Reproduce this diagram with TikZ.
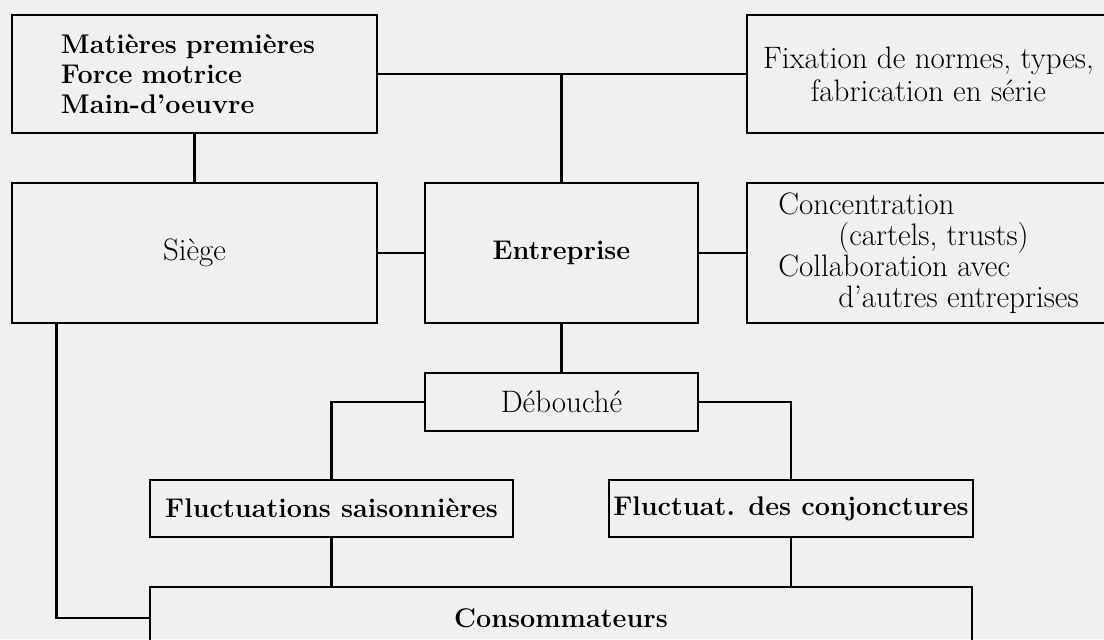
\documentclass[tikz,border=0pt]{standalone}
\usepackage{tikz}
\usetikzlibrary{positioning}
\tikzset{
box/.style={draw, rectangle, line width=1.4pt, inner sep=0pt}, % every frame of the chart
link/.style={line width=1.4pt}, % plain connectors, no tips
boldtxt/.style={font=\fontsize{13.5}{15}\selectfont\bfseries}, % heavy labels
plaintxt/.style={font=\fontsize{15.5}{15.5}\selectfont}, % light labels
}

\begin{document}
\begin{tikzpicture}[x=0.5pt, y=-0.5pt]
        \useasboundingbox (0,0) rectangle (1104,639);
        \fill[black!6] (0,0) rectangle (1104,639);
        \clip (0,0) rectangle (1104,639);

        \node[box, boldtxt, minimum width=182.5pt, minimum height=59pt, text width=133.5pt, align=left, inner xsep=24.5pt] (mat) at (194.5,74)
             {Matières premières\\ Force motrice\\ Main-d'oeuvre};
        \node[box, plaintxt, minimum width=181.5pt, minimum height=59pt, align=center] (fix) at (928.5,74)
             {Fixation de normes, types,\\[1pt] fabrication en série};
        \node[box, plaintxt, minimum width=182.5pt, minimum height=70pt] (siege) at (194.5,253) {Siège};
        \node[box, boldtxt, minimum width=136.5pt, minimum height=70pt] (entr) at (561.5,253) {Entreprise};
        \node[box, plaintxt, minimum width=181.5pt, minimum height=70pt, align=left] (conc) at (928.5,253)
             {Concentration\\ \hspace*{30pt}(cartels, trusts)\\ Collaboration avec\\ \hspace*{30pt}d'autres entreprises};
        \node[box, plaintxt, minimum width=136.5pt, minimum height=29pt] (deb) at (561.5,402) {Débouché};
        \node[box, boldtxt, minimum width=181.5pt, minimum height=28.5pt] (flsais) at (331.5,508.5) {Fluctuations saisonnières};
        \node[box, boldtxt, minimum width=182pt, minimum height=28.5pt] (flconj) at (791,508.5) {Fluctuat. des conjonctures};
        \node[box, boldtxt, minimum width=411pt, minimum height=31pt] (cons) at (561,618) {Consommateurs};

        \draw[link] (mat) -- (fix)
                    (entr.north) -- (entr.north |- mat.east)
                    (mat) -- (siege)
                    (siege) -- (entr)
                    (entr) -- (conc)
                    (entr) -- (deb)
                    (deb.west) -| (flsais.north)
                    (deb.east) -| (flconj.north)
                    (flsais.south) -- (flsais.south |- cons.north)
                    (flconj.south) -- (flconj.south |- cons.north)
                    ([xshift=23pt]siege.south west) |- (cons.west);
    \end{tikzpicture}
\end{document}
